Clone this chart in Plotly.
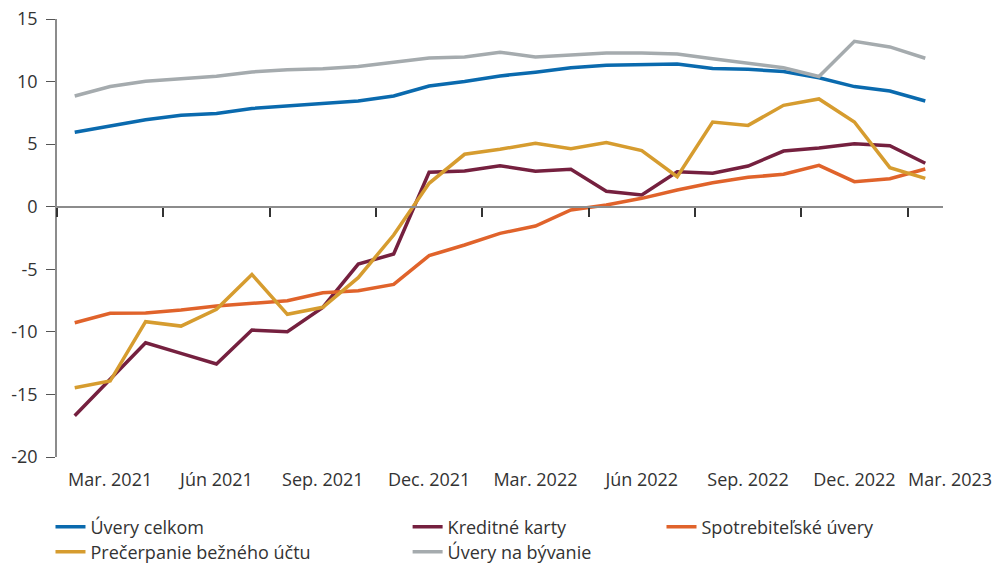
import plotly.graph_objects as go

# monthly data, Mar 2021 - Mar 2023 (y/y, %)
months = ["2021-03", "2021-04", "2021-05", "2021-06", "2021-07", "2021-08", "2021-09",
          "2021-10", "2021-11", "2021-12", "2022-01", "2022-02", "2022-03", "2022-04",
          "2022-05", "2022-06", "2022-07", "2022-08", "2022-09", "2022-10", "2022-11",
          "2022-12", "2023-01", "2023-02", "2023-03"]

uvery_celkom = [5.95, 6.45, 6.95, 7.3, 7.45, 7.85, 8.05, 8.2, 8.45, 8.85, 9.65, 10.0, 10.45,
                10.75, 11.1, 11.3, 11.38, 11.4, 11.05, 10.98, 10.8, 10.3, 9.6, 9.25, 8.45]
kreditne_karty = [-16.7, -13.8, -10.87, -11.72, -12.57, -9.86, -9.99, -8.04, -4.58, -3.78,
                  2.75, 2.85, 3.28, 2.83, 2.99, 1.23, 0.94, 2.8, 2.67, 3.25, 4.45, 4.69,
                  5.04, 4.88, 3.47]
spotrebitelske = [-9.27, -8.52, -8.5, -8.26, -7.94, -7.73, -7.51, -6.87, -6.71, -6.21, -3.91,
                  -3.06, -2.13, -1.54, -0.26, 0.14, 0.67, 1.33, 1.92, 2.35, 2.59, 3.31, 2.0,
                  2.24, 3.01]
precerpanie = [-14.47, -13.93, -9.19, -9.54, -8.2, -5.41, -8.6, -8.04, -5.67, -2.26, 1.87,
               4.19, 4.59, 5.07, 4.64, 5.12, 4.48, 2.4, 6.77, 6.5, 8.1, 8.61, 6.77, 3.12, 2.27]
uvery_byvanie = [8.85, 9.6, 10.02, 10.23, 10.42, 10.77, 10.95, 11.03, 11.2, 11.54, 11.89,
                 11.97, 12.34, 11.97, 12.1, 12.29, 12.29, 12.2, 11.83, 11.49, 11.11, 10.4,
                 13.22, 12.77, 11.86]

tick_labels = ["Mar. 2021", "Jún 2021", "Sep. 2021", "Dec. 2021", "Mar. 2022",
               "Jún 2022", "Sep. 2022", "Dec. 2022", "Mar. 2023"]
y_ticks = [-20, -15, -10, -5, 0, 5, 10, 15]
y_tick_text = ["-20", "-15", "-10", "-5", "0", "5", "10", "15"]

x = list(range(len(months)))
# labels sit in the middle of each quarter, the last one pushed right
label_pos = [3 * k + 1 for k in range(len(tick_labels) - 1)] + [len(months) - 0.3]
boundaries = [3 * k - 0.5 for k in range(len(tick_labels))]

font = "Open Sans"
txt = "#333333"
fsize = 18

series = [
    ("Úvery celkom", uvery_celkom, "#0a6aae", "legend"),
    ("Kreditné karty", kreditne_karty, "#75203f", "legend2"),
    ("Spotrebiteľské úvery", spotrebitelske, "#e0632b", "legend3"),
    ("Prečerpanie bežného účtu", precerpanie, "#d69c2f", "legend4"),
    ("Úvery na bývanie", uvery_byvanie, "#a5abae", "legend5"),
]

fig = go.Figure()
for name, vals, color, leg in series:
    fig.add_trace(go.Scatter(x=x, y=vals, name=name, mode="lines",
                             line=dict(color=color, width=3.5), legend=leg))

# empty trace so the zero-line axis exists
fig.add_trace(go.Scatter(x=[], y=[], xaxis="x2", showlegend=False, hoverinfo="skip"))

# plot area 57..987 px; zero-line axis stops at 943 px
x_right = -0.5 + 930 / 35.44
zero_dom = 886 / 930

leg_common = dict(font=dict(family=font, size=fsize, color=txt), bgcolor="rgba(0,0,0,0)",
                  yanchor="middle", xanchor="left", itemwidth=30)
row1, row2 = -0.16, -0.217

fig.update_layout(
    width=997, height=563,
    margin=dict(l=57, r=10, t=19, b=106, autoexpand=False),
    paper_bgcolor="white", plot_bgcolor="rgba(0,0,0,0)",
    font=dict(family=font, size=fsize, color=txt),
    xaxis=dict(range=[-0.5, x_right], domain=[0, 1], tickmode="array", tickvals=label_pos,
               ticktext=tick_labels, ticks="", showline=False, showgrid=False,
               zeroline=False, automargin=False, ticklabelstandoff=10,
               tickfont=dict(size=fsize, color=txt)),
    xaxis2=dict(domain=[0, zero_dom], anchor="free", position=20 / 35, range=[-0.5, 24.5],
                tickmode="array", tickvals=boundaries, ticks="outside", ticklen=9,
                tickcolor="#333333", tickwidth=1.5, showticklabels=False, showline=True,
                linecolor="#8c8c8c", linewidth=2, showgrid=False, zeroline=False,
                automargin=False),
    yaxis=dict(range=[-20, 15], tickmode="array", tickvals=y_ticks, ticktext=y_tick_text,
               ticks="outside", ticklen=9, tickcolor="#555555", showline=True,
               linecolor="#8c8c8c", linewidth=1.5, showgrid=False, zeroline=False,
               automargin=False, ticklabelstandoff=5, tickfont=dict(size=fsize, color=txt)),
    legend=dict(x=-0.007, y=row1, **leg_common),
    legend2=dict(x=0.377, y=row1, **leg_common),
    legend3=dict(x=0.65, y=row1, **leg_common),
    legend4=dict(x=-0.007, y=row2, **leg_common),
    legend5=dict(x=0.377, y=row2, **leg_common),
    showlegend=True,
)

fig.write_html("out.html", config={"displayModeBar": False},
               post_script="document.body.style.margin='0';")
